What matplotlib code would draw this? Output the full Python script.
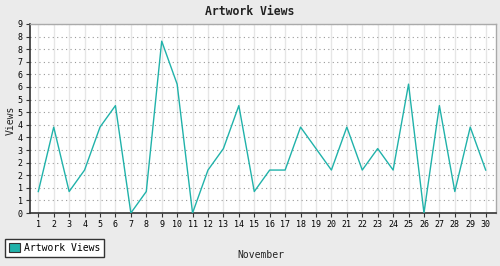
import numpy as np
import matplotlib.pyplot as plt
from matplotlib.patches import Patch

# data
days = list(range(1, 31))
views = [1, 4, 1, 2, 4, 5, 0, 1, 8, 6, 0, 2, 3, 5, 1,
         2, 2, 4, 3, 2, 4, 2, 3, 2, 6, 0, 5, 1, 4, 2]
y_max = 8.8
y_ticks = np.linspace(0, y_max, 16)
y_labels = ['0', '1', '1', '2', '2', '3', '4', '4', '5', '5', '6', '6', '7', '8', '8', '9']

line_color = '#20b2aa'
bg_color = '#ebebeb'
font = 'DejaVu Sans Mono'

fig = plt.figure(figsize=(5, 2.66), dpi=100, facecolor=bg_color)
ax = fig.add_axes([0.059, 0.1992, 0.9324, 0.7106])
ax.set_facecolor('white')

ax.plot(days, views, color=line_color, linewidth=1.0, label='Artwork Views', zorder=3)

ax.set_xlim(0.43, 30.65)
ax.set_ylim(0, y_max)
ax.set_xticks(days)
ax.set_xticklabels([str(d) for d in days], fontsize=6, family=font)
ax.set_yticks(y_ticks)
ax.set_yticklabels(y_labels, fontsize=6, family=font)

# grid: solid light verticals, dotted grey horizontals
ax.xaxis.grid(True, color='#e6e6e6', linewidth=1.0, linestyle='-')
ax.yaxis.grid(True, color='#999999', linewidth=0.8, linestyle=(0, (1, 3)))
ax.set_axisbelow(True)

ax.tick_params(axis='both', direction='out', length=3, width=0.8, color='#333333', pad=2)
for side in ['left', 'bottom']:
    ax.spines[side].set_color('#333333')
    ax.spines[side].set_linewidth(1.2)
for side in ['top', 'right']:
    ax.spines[side].set_color('#aaaaaa')
    ax.spines[side].set_linewidth(1.0)

fig.text(0.5, 0.955, 'Artwork Views', ha='center', va='center',
         fontsize=8.3, fontweight='bold', family=font, color='#222222')
fig.text(0.022, 0.549, 'Views', ha='center', va='center', rotation=90,
         fontsize=7, family=font, color='#222222')
fig.text(0.521, 0.041, 'November', ha='center', va='center',
         fontsize=7, family=font, color='#222222')

handle = Patch(facecolor=line_color, edgecolor='#333333', linewidth=0.8)
leg = fig.legend([handle], ['Artwork Views'], loc='lower left',
                 bbox_to_anchor=(0.01, 0.035), prop={'family': font, 'size': 7},
                 fancybox=False, framealpha=1, edgecolor='#333333',
                 handlelength=1.15, handleheight=1.15, handletextpad=0.4,
                 borderpad=0.4, borderaxespad=0)
leg.get_frame().set_linewidth(1.0)

plt.savefig('out.png', dpi=100, facecolor=bg_color)
